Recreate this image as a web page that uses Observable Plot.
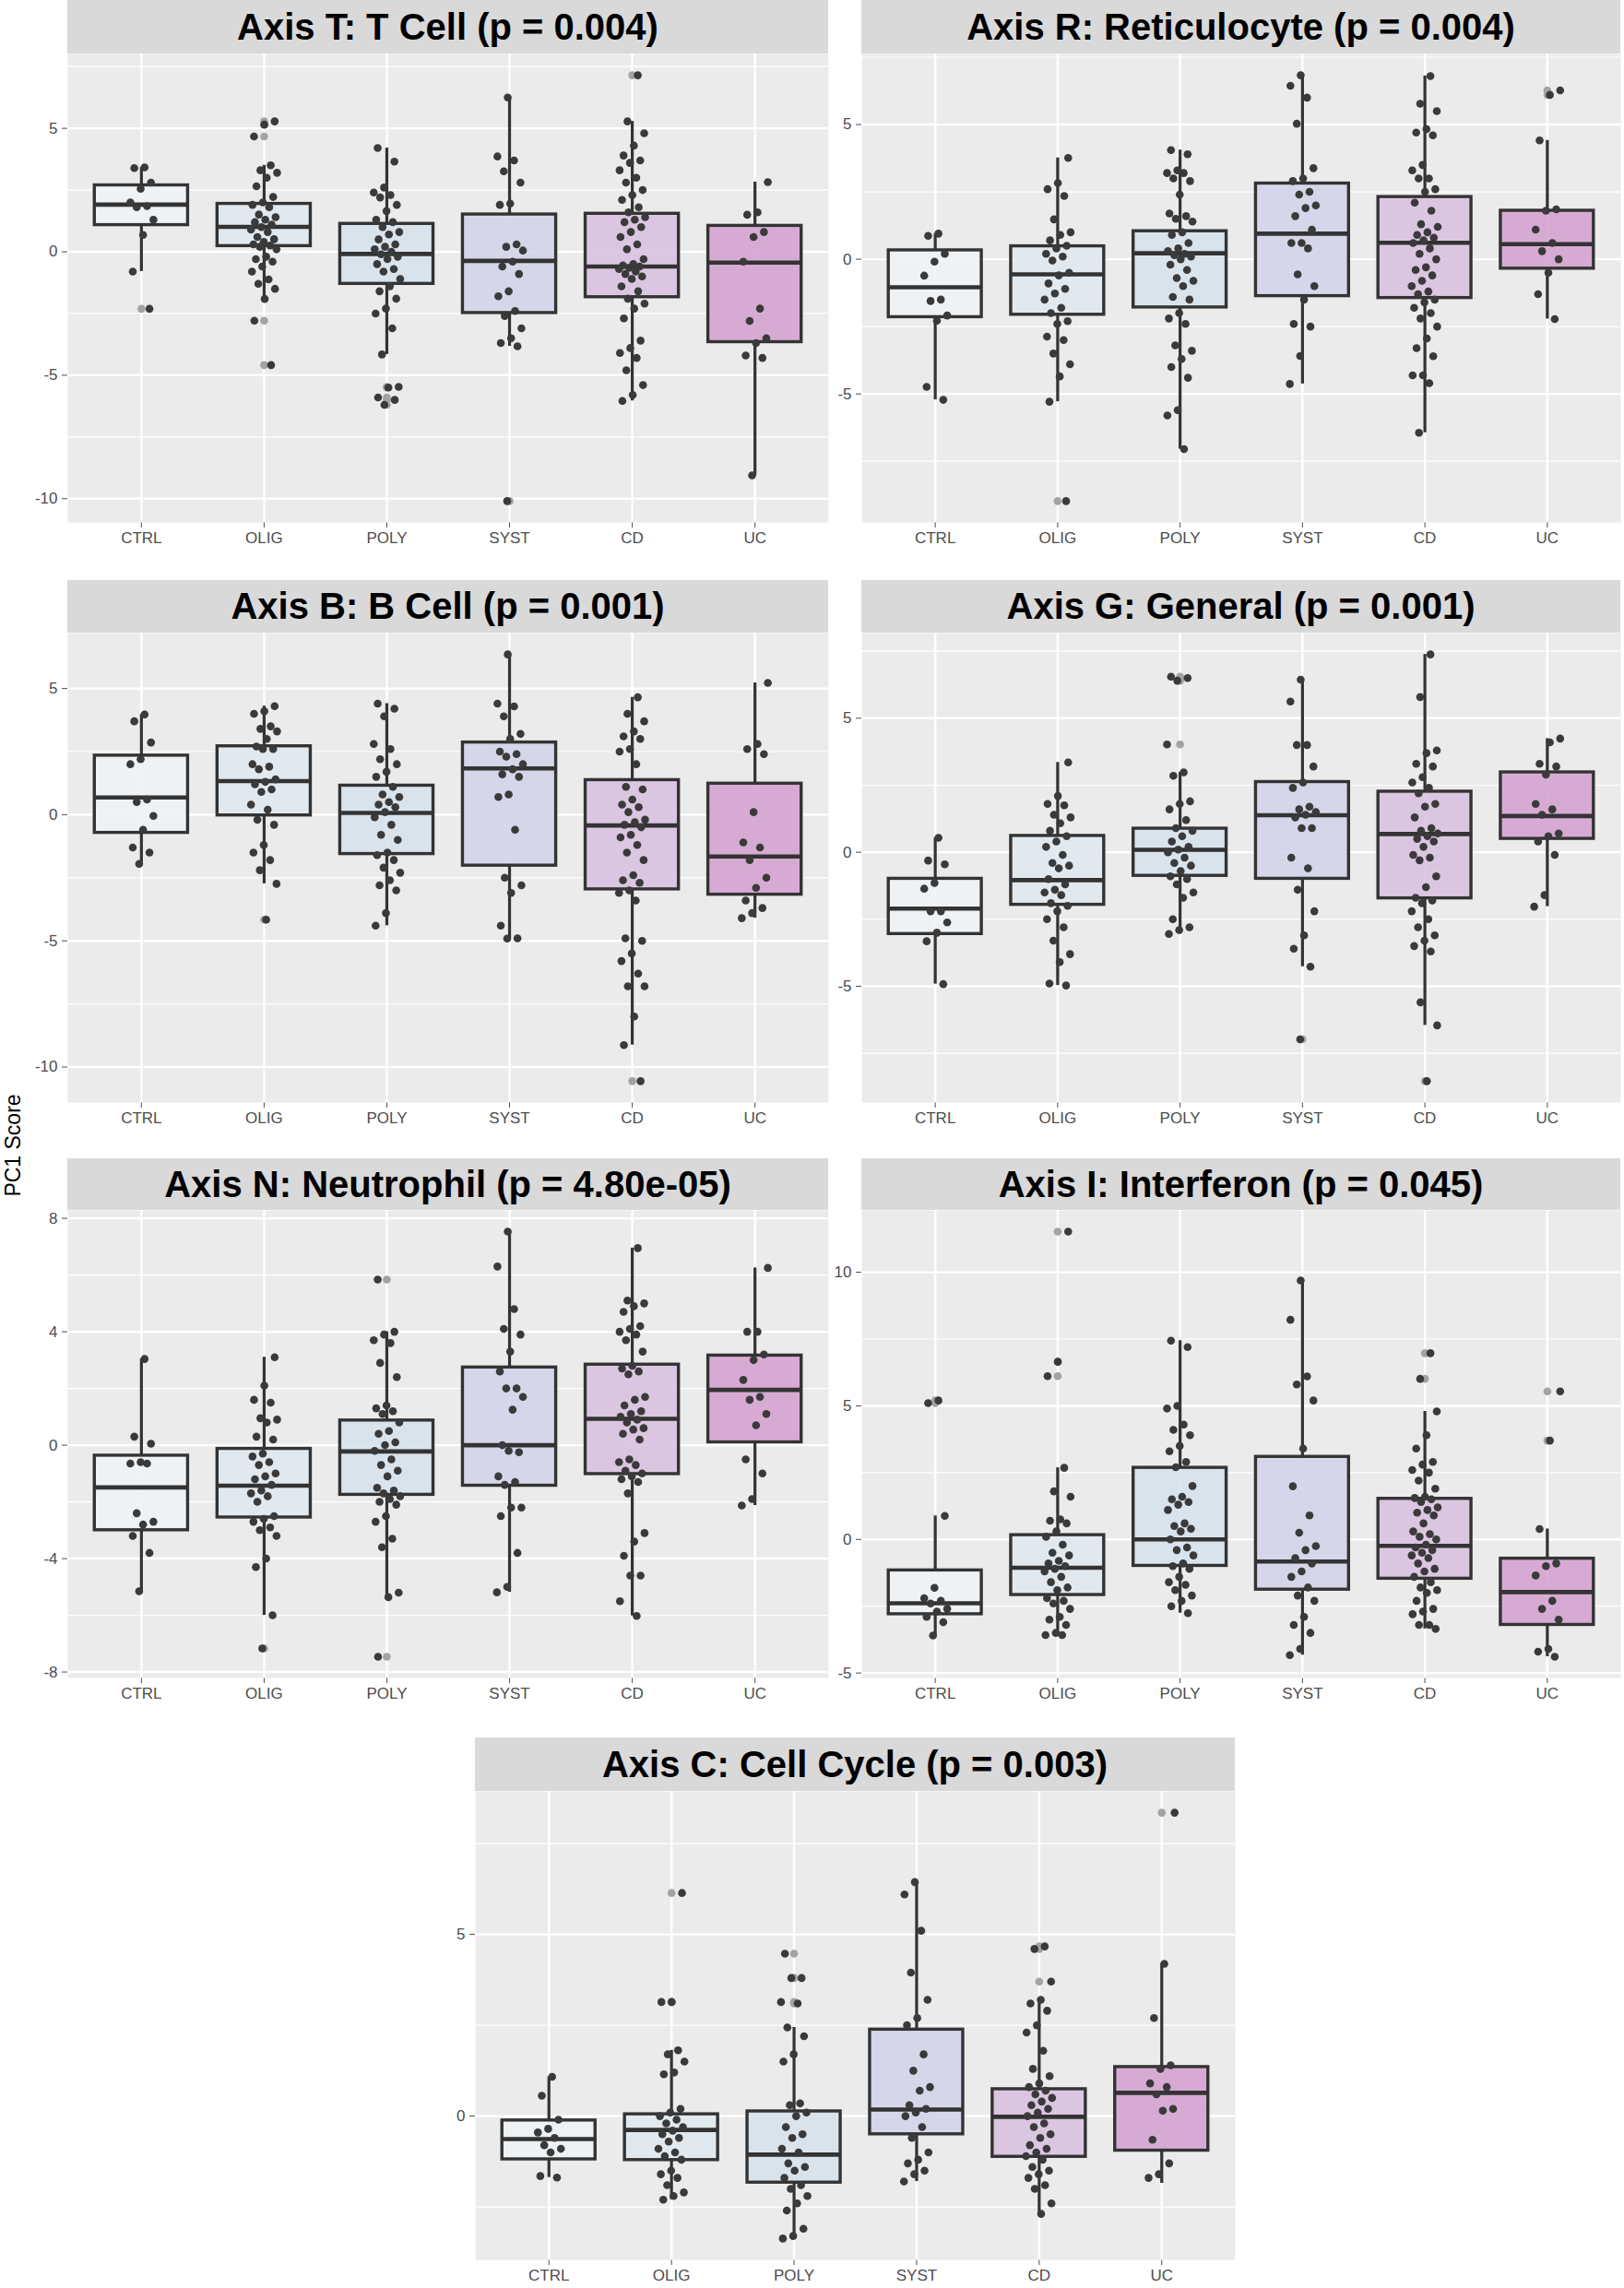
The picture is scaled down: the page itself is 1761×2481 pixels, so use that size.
<!DOCTYPE html>
<html>
<head>
<meta charset="utf-8">
<script src="https://cdn.jsdelivr.net/npm/d3@7"></script>
<script src="https://cdn.jsdelivr.net/npm/@observablehq/plot@0.6"></script>
<style>
  body { margin: 0; background: #ffffff; }
  #root { position: relative; width: 1761px; height: 2481px; background: #ffffff; font-family: "Liberation Sans", Arial, sans-serif; overflow: hidden; }
  .strip { position: absolute; background: #D9D9D9; display: flex; align-items: center; justify-content: center; font-weight: bold; font-size: 40px; color: #000; white-space: nowrap; }
  .panel { position: absolute; }
  .ylab { position: absolute; font-size: 23px; color: #000; white-space: nowrap; transform: translate(-50%, -50%) rotate(-90deg); }
</style>
</head>
<body>
<div id="root"></div>
<script>
// ---------------- DATA ----------------
const groups = ["CTRL", "OLIG", "POLY", "SYST", "CD", "UC"];
const groupFills = ["#EEF3F6", "#E0E8EE", "#D6E1EC", "#D1D3E8", "#D8C0E0", "#D4A0D0"];
const titles = [
  "Axis T: T Cell (p = 0.004)",
  "Axis R: Reticulocyte (p = 0.004)",
  "Axis B: B Cell (p = 0.001)",
  "Axis G: General (p = 0.001)",
  "Axis N: Neutrophil (p = 4.80e-05)",
  "Axis I: Interferon (p = 0.045)",
  "Axis C: Cell Cycle (p = 0.003)"
];
const tickSteps = [5, 5, 5, 5, 4, 5, 5];
const yLabel = "PC1 Score";

// box stats per group: [whisker low, Q1, median, Q3, whisker high]
const tBox = [[-0.80, 1.08, 1.91, 2.69, 3.42], [-1.91, 0.23, 1.01, 1.94, 3.50], [-4.16, -1.30, -0.09, 1.13, 4.20], [-3.83, -2.48, -0.37, 1.51, 6.25], [-6.04, -1.84, -0.60, 1.54, 5.28], [-9.06, -3.66, -0.44, 1.05, 2.82]];
const tPts = [
  [3.42, 3.39, 2.8, 2.55, 2.0, 1.85, 1.8, 1.3, 0.68, -0.8, -2.31],
  [5.28, 5.15, 4.67, 3.5, 3.3, 3.2, 3.0, 2.65, 2.22, 2.0, 1.9, 1.8, 1.51, 1.4, 1.3, 1.2, 1.1, 1.0, 0.9, 0.8, 0.6, 0.51, 0.4, 0.3, 0.25, 0.2, 0.1, -0.2, -0.3, -0.4, -0.6, -0.8, -1.12, -1.3, -1.5, -1.91, -2.79, -4.59],
  [4.2, 3.65, 2.6, 2.4, 2.3, 2.2, 1.9, 1.65, 1.3, 1.2, 1.0, 0.8, 0.7, 0.5, 0.3, 0.2, 0.1, 0.0, -0.1, -0.2, -0.3, -0.5, -0.7, -0.8, -1.1, -1.4, -1.6, -1.9, -2.3, -2.5, -3.1, -4.16, -5.47, -5.5, -5.9, -6.0, -6.2],
  [6.25, 3.86, 3.7, 3.26, 2.8, 1.95, 1.9, 0.3, 0.2, 0.05, -0.4, -0.6, -0.9, -1.6, -1.8, -2.4, -2.6, -3.1, -3.5, -3.7, -3.83, -10.1],
  [7.15, 5.28, 4.8, 4.3, 3.9, 3.7, 3.6, 3.3, 3.0, 2.8, 2.5, 2.3, 2.1, 1.8, 1.6, 1.4, 1.3, 1.2, 1.0, 0.8, 0.6, 0.3, 0.1, -0.3, -0.5, -0.55, -0.6, -0.65, -0.7, -0.8, -0.9, -1.0, -1.1, -1.4, -1.6, -1.9, -2.1, -2.3, -2.7, -3.6, -3.9, -4.1, -4.3, -4.8, -5.4, -5.8, -6.04],
  [2.82, 1.6, 1.5, 0.8, 0.6, -0.4, -2.3, -2.8, -3.5, -3.7, -4.2, -4.3, -9.06]
];

const rBox = [[-5.22, -2.15, -1.04, 0.33, 0.95], [-5.29, -2.06, -0.56, 0.48, 3.76], [-7.05, -1.79, 0.22, 1.04, 4.05], [-4.63, -1.37, 0.95, 2.81, 6.83], [-6.44, -1.44, 0.61, 2.31, 6.80], [-2.22, -0.35, 0.56, 1.80, 4.41]];
const rPts = [
  [0.95, 0.87, 0.2, -0.09, -0.61, -1.5, -1.55, -2.09, -2.28, -4.74, -5.22],
  [3.76, 2.83, 2.6, 2.35, 1.48, 1.0, 0.9, 0.7, 0.5, 0.4, 0.2, 0.1, -0.05, -0.5, -0.6, -0.9, -1.1, -1.27, -1.5, -1.8, -2.0, -2.3, -2.4, -2.87, -3.0, -3.5, -3.9, -4.35, -5.29, -8.98],
  [4.05, 3.9, 3.3, 3.2, 3.2, 3.0, 2.9, 2.4, 1.7, 1.6, 1.5, 1.4, 1.0, 0.9, 0.6, 0.4, 0.3, 0.2, 0.15, 0.1, 0.0, -0.2, -0.4, -0.7, -0.8, -1.0, -1.4, -1.5, -2.0, -2.2, -2.4, -3.2, -3.4, -3.7, -4.0, -4.4, -5.6, -5.8, -7.05],
  [6.83, 6.44, 6.0, 5.03, 3.38, 3.0, 2.9, 2.5, 2.4, 2.0, 1.9, 1.6, 1.1, 0.6, 0.6, 0.4, -0.56, -1.0, -1.5, -2.4, -2.5, -3.59, -4.63],
  [6.8, 5.77, 5.5, 4.83, 4.7, 4.6, 3.5, 3.3, 3.0, 3.0, 2.6, 2.5, 2.1, 1.8, 1.3, 1.2, 1.0, 0.9, 0.8, 0.7, 0.6, 0.4, 0.2, 0.0, -0.3, -0.4, -0.6, -0.8, -1.0, -1.2, -1.3, -1.5, -1.6, -1.8, -2.0, -2.2, -2.5, -2.94, -3.3, -3.6, -4.31, -4.31, -4.6, -6.44],
  [6.27, 6.1, 4.41, 1.85, 1.8, 1.1, 0.6, 0.3, 0.0, -0.5, -1.3, -2.22]
];

const bBox = [[-1.95, -0.72, 0.68, 2.34, 3.97], [-2.74, -0.03, 1.33, 2.71, 4.30], [-4.40, -1.56, 0.07, 1.15, 4.40], [-4.91, -2.02, 1.83, 2.86, 6.35], [-9.13, -2.96, -0.43, 1.37, 4.65], [-4.10, -3.17, -1.66, 1.23, 5.22]];
const bPts = [
  [3.97, 3.7, 2.86, 2.2, 2.0, 0.6, 0.5, -0.05, -0.6, -1.3, -1.5, -1.95],
  [4.3, 4.1, 4.0, 3.5, 3.4, 3.3, 3.0, 2.7, 2.6, 2.6, 2.0, 1.9, 1.8, 1.4, 1.3, 1.2, 1.0, 0.9, 0.4, 0.2, -0.2, -0.4, -1.2, -1.5, -1.8, -2.2, -2.74, -4.16],
  [4.4, 4.2, 3.9, 2.8, 2.6, 2.2, 2.0, 1.7, 1.5, 1.1, 0.8, 0.7, 0.5, 0.4, 0.3, 0.1, -0.1, -0.4, -0.8, -1.0, -1.5, -1.6, -1.8, -2.1, -2.3, -2.6, -2.8, -3.0, -3.9, -4.4],
  [6.35, 4.4, 4.29, 3.9, 3.2, 3.0, 2.5, 2.4, 2.3, 2.0, 1.8, 1.6, 1.5, 0.8, 0.7, -0.6, -2.5, -2.8, -3.1, -4.4, -4.9, -4.91],
  [4.65, 4.0, 3.7, 3.3, 3.1, 3.0, 2.6, 2.5, 2.0, 1.1, 1.0, 0.6, 0.4, 0.3, 0.1, -0.2, -0.3, -0.4, -0.5, -0.8, -0.9, -1.2, -1.5, -1.8, -2.4, -2.6, -2.7, -3.0, -3.1, -3.4, -4.9, -5.0, -5.5, -5.8, -6.3, -6.8, -6.8, -8.0, -9.13, -10.56],
  [5.22, 2.8, 2.6, 2.4, 0.1, -1.1, -1.3, -1.8, -2.5, -2.9, -3.4, -3.7, -3.9, -4.1]
];

const gBox = [[-4.92, -3.05, -2.10, -0.99, 0.54], [-4.97, -1.96, -1.04, 0.61, 3.35], [-3.05, -0.88, 0.09, 0.88, 2.98], [-4.27, -0.99, 1.38, 2.62, 6.44], [-6.46, -1.72, 0.68, 2.26, 7.38], [-2.03, 0.50, 1.35, 2.98, 4.24]];
const gPts = [
  [0.54, -0.31, -0.45, -1.15, -1.36, -2.2, -2.2, -2.62, -3.0, -3.32, -4.92],
  [3.35, 2.1, 1.8, 1.75, 1.4, 1.3, 1.08, 0.8, 0.6, 0.4, 0.2, -0.1, -0.4, -0.5, -0.6, -1.0, -1.2, -1.4, -1.5, -1.6, -1.9, -2.0, -2.2, -2.5, -2.8, -3.3, -3.8, -4.1, -4.9, -4.97],
  [6.55, 6.5, 6.4, 4.02, 2.98, 2.85, 1.9, 1.8, 1.6, 1.2, 0.9, 0.8, 0.6, 0.4, 0.2, 0.1, 0.0, -0.2, -0.4, -0.5, -0.7, -0.9, -1.0, -1.2, -1.5, -1.7, -2.5, -2.8, -2.9, -3.05],
  [6.44, 5.62, 4.0, 4.0, 3.2, 2.6, 2.4, 1.7, 1.6, 1.5, 1.4, 1.3, 0.9, 0.9, -0.2, -0.6, -1.4, -2.2, -3.1, -3.6, -4.27, -6.98],
  [7.38, 5.79, 3.8, 3.7, 3.3, 3.2, 2.8, 2.6, 2.4, 2.2, 1.8, 1.7, 1.3, 0.9, 0.8, 0.7, 0.6, 0.5, 0.4, 0.2, -0.1, -0.2, -0.3, -0.9, -1.3, -1.7, -1.8, -1.9, -2.2, -2.5, -2.8, -3.1, -3.3, -3.5, -3.7, -5.6, -6.46, -8.54],
  [4.24, 4.1, 3.3, 3.2, 2.9, 1.8, 1.6, 1.4, 0.7, 0.6, 0.4, -0.1, -1.6, -2.03]
];

const nBox = [[-5.15, -3.00, -1.49, -0.37, 3.04], [-6.00, -2.55, -1.43, -0.13, 3.10], [-5.36, -1.75, -0.22, 0.87, 4.00], [-5.19, -1.43, 0.00, 2.74, 7.53], [-6.02, -1.02, 0.93, 2.84, 6.95], [-2.13, 0.10, 1.95, 3.16, 6.25]];
const nPts = [
  [3.04, 0.3, 0.05, -0.6, -0.65, -0.65, -2.4, -2.7, -2.8, -3.2, -3.8, -5.15],
  [3.1, 2.1, 1.6, 1.5, 0.95, 0.9, 0.8, 0.3, 0.2, -0.3, -0.4, -0.6, -0.7, -1.0, -1.1, -1.2, -1.4, -1.6, -1.7, -1.8, -2.0, -2.5, -2.6, -2.7, -2.9, -3.0, -3.2, -4.0, -4.3, -6.0, -7.17],
  [5.84, 4.0, 3.9, 3.7, 3.6, 2.9, 2.4, 1.4, 1.3, 1.2, 1.1, 0.8, 0.5, 0.4, 0.1, 0.0, -0.2, -0.5, -0.7, -0.9, -1.1, -1.5, -1.6, -1.7, -1.8, -1.9, -2.0, -2.1, -2.5, -2.7, -3.3, -3.6, -5.2, -5.36, -7.46],
  [7.53, 6.3, 4.8, 4.1, 3.9, 3.3, 2.6, 2.0, 2.0, 1.7, 1.25, 0.0, -0.25, -0.2, -1.1, -1.3, -1.4, -2.2, -2.2, -2.5, -3.8, -5.0, -5.19],
  [6.95, 5.1, 5.0, 4.9, 4.7, 4.2, 4.1, 4.0, 3.9, 3.7, 3.3, 2.8, 2.7, 2.6, 2.5, 1.7, 1.6, 1.4, 1.2, 1.1, 1.0, 0.9, 0.8, 0.6, 0.55, 0.4, 0.2, -0.5, -0.6, -0.7, -0.9, -1.0, -1.1, -1.2, -1.3, -1.7, -3.1, -3.4, -3.9, -4.6, -4.6, -5.5, -6.02],
  [6.25, 4.0, 4.0, 3.2, 3.0, 2.3, 1.7, 1.6, 1.1, 0.7, -0.5, -1.0, -1.9, -2.13]
];

const iBox = [[-3.60, -2.80, -2.39, -1.16, 0.88], [-3.58, -2.08, -1.06, 0.16, 2.68], [-2.76, -0.99, 0.00, 2.68, 7.44], [-4.33, -1.88, -0.83, 3.09, 9.69], [-3.35, -1.47, -0.24, 1.52, 4.79], [-4.39, -3.20, -1.97, -0.72, 0.39]];
const iPts = [
  [5.2, 5.1, 0.88, -1.81, -2.2, -2.3, -2.4, -2.6, -2.7, -2.9, -3.1, -3.6],
  [11.52, 6.65, 6.11, 2.68, 1.8, 1.6, 0.75, 0.7, 0.6, 0.3, 0.1, -0.2, -0.5, -0.6, -0.8, -0.9, -1.0, -1.1, -1.2, -1.4, -1.6, -1.8, -1.9, -2.2, -2.3, -2.4, -2.6, -2.9, -3.0, -3.2, -3.5, -3.58, -3.58],
  [7.44, 7.2, 5.0, 4.9, 4.3, 4.1, 3.9, 3.5, 3.3, 2.9, 2.7, 2.0, 1.6, 1.5, 1.4, 1.3, 1.1, 0.6, 0.5, 0.4, 0.3, 0.0, -0.3, -0.4, -0.6, -0.9, -1.0, -1.1, -1.4, -1.6, -1.7, -1.9, -2.1, -2.3, -2.5, -2.76],
  [9.69, 8.22, 6.1, 5.8, 5.2, 3.4, 1.99, 0.9, 0.25, -0.25, -0.4, -0.7, -0.9, -1.2, -1.4, -1.8, -2.1, -2.3, -2.9, -3.2, -3.5, -4.1, -4.33],
  [6.97, 6.01, 4.79, 3.9, 3.4, 2.9, 2.8, 2.6, 2.5, 2.2, 1.9, 1.6, 1.55, 1.5, 1.4, 1.2, 1.1, 1.0, 0.9, 0.6, 0.3, 0.2, 0.1, 0.0, -0.2, -0.3, -0.4, -0.5, -0.6, -0.7, -0.9, -1.1, -1.2, -1.4, -1.6, -1.8, -1.9, -2.0, -2.3, -2.6, -2.7, -2.8, -3.2, -3.2, -3.35],
  [5.54, 3.7, 0.39, -0.9, -1.0, -1.35, -2.3, -2.6, -3.0, -4.1, -4.2, -4.39]
];

const cBox = [[-1.69, -1.19, -0.63, -0.12, 1.08], [-2.30, -1.21, -0.38, 0.05, 1.81], [-3.37, -1.83, -1.06, 0.13, 2.44], [-1.80, -0.50, 0.18, 2.38, 6.44], [-2.69, -1.12, -0.02, 0.74, 3.20], [-1.85, -0.95, 0.64, 1.35, 4.19]];
const cPts = [
  [1.08, 0.56, -0.1, -0.35, -0.45, -0.6, -0.8, -0.9, -1.0, -1.65, -1.69],
  [6.14, 3.14, 3.14, 1.81, 1.7, 1.5, 1.2, 1.15, 0.2, 0.1, 0.0, -0.1, -0.2, -0.3, -0.4, -0.5, -0.6, -0.7, -0.9, -1.0, -1.1, -1.2, -1.5, -1.6, -1.7, -1.9, -2.1, -2.2, -2.3],
  [4.47, 3.8, 3.8, 3.14, 3.1, 2.44, 2.2, 1.7, 1.5, 0.35, 0.3, 0.1, 0.0, -0.3, -0.5, -0.6, -0.9, -1.0, -1.3, -1.4, -1.5, -1.7, -1.9, -2.0, -2.2, -2.4, -2.6, -3.1, -3.3, -3.37],
  [6.44, 6.1, 5.1, 3.95, 3.2, 2.7, 2.5, 1.7, 1.25, 0.8, 0.7, 0.3, 0.2, 0.1, 0.0, -0.3, -0.6, -1.0, -1.2, -1.3, -1.5, -1.6, -1.8],
  [4.67, 4.6, 3.7, 3.2, 3.1, 2.9, 2.5, 2.3, 1.8, 1.3, 1.1, 0.9, 0.8, 0.7, 0.6, 0.5, 0.4, 0.3, 0.2, 0.1, 0.0, -0.2, -0.3, -0.5, -0.6, -0.8, -0.9, -1.0, -1.1, -1.2, -1.4, -1.5, -1.6, -1.7, -1.9, -2.0, -2.4, -2.69],
  [8.35, 4.19, 2.7, 1.4, 1.3, 0.9, 0.8, 0.6, 0.2, 0.15, -0.65, -1.3, -1.6, -1.7]
];

// ---------------- LAYOUT ----------------
const panelBoxes = [tBox, rBox, bBox, gBox, nBox, iBox, cBox];
const panelPts = [tPts, rPts, bPts, gPts, nPts, iPts, cPts];
// [panel left, panel top, panel width, panel height, strip top]
const geoms = [
  [73, 58, 825, 508, 0],
  [934, 58, 823, 508, 0],
  [73, 686, 825, 509, 629],
  [934, 686, 823, 509, 629],
  [73, 1312, 825, 507, 1256],
  [934, 1312, 823, 507, 1256],
  [515, 1942, 824, 508, 1884]
];

const root = document.getElementById("root");
const FONT = '"Liberation Sans", Arial, sans-serif';
const HALF = 0.38;

// deterministic horizontal jitter (position only)
function jitter(gi, j) {
  const u = ((j + 1) * 0.6180339887 + gi * 0.2718) % 1;
  return (u - 0.5) * 0.22;
}

function drawPanel(k) {
  const [px, py, pw, ph, sy] = geoms[k];
  const step = tickSteps[k];
  const boxes = panelBoxes[k].map((b, gi) => ({ g: gi + 1, lo: b[0], q1: b[1], med: b[2], q3: b[3], hi: b[4], fill: groupFills[gi] }));
  const pts = [];
  panelPts[k].forEach((vals, gi) => vals.forEach((v, j) => pts.push({ g: gi + 1, v, jx: jitter(gi, j) })));
  const outl = pts.filter(p => p.v > boxes[p.g - 1].hi + 1e-9 || p.v < boxes[p.g - 1].lo - 1e-9);

  const allVals = pts.map(p => p.v).concat(boxes.flatMap(b => [b.lo, b.hi]));
  const [mn, mx] = d3.extent(allVals);
  const pad = (mx - mn) * 0.05;
  const domain = [mn - pad, mx + pad];
  const majors = d3.range(Math.ceil(domain[0] / step) * step, domain[1] + 1e-9, step);
  const minors = d3.range(Math.ceil((domain[0] - step / 2) / step) * step + step / 2, domain[1], step).filter(v => v > domain[0] && v < domain[1]);

  const ML = k % 2 === 0 && k !== 6 ? px : 60;
  const MB = 46;

  const chart = Plot.plot({
    width: pw + ML,
    height: ph + MB,
    marginLeft: ML,
    marginRight: 0,
    marginTop: 0,
    marginBottom: MB,
    style: { fontFamily: FONT, fontSize: "17px", color: "#4D4D4D", background: "transparent", overflow: "visible" },
    color: { type: "identity" },
    x: { domain: [0.4, 6.6], ticks: [1, 2, 3, 4, 5, 6], tickFormat: i => groups[i - 1], tickSize: 6, tickPadding: 4, label: null },
    y: { domain, ticks: majors, tickSize: 6, tickPadding: 5, label: null, tickFormat: d => String(d) },
    marks: [
      Plot.frame({ fill: "#EBEBEB", stroke: null }),
      Plot.ruleY(minors, { stroke: "#FFFFFF", strokeWidth: 1.2 }),
      Plot.ruleY(majors, { stroke: "#FFFFFF", strokeWidth: 2.4 }),
      Plot.ruleX([1, 2, 3, 4, 5, 6], { stroke: "#FFFFFF", strokeWidth: 2.4 }),
      Plot.ruleX(boxes, { x: "g", y1: "q3", y2: "hi", stroke: "#333333", strokeWidth: 3.2 }),
      Plot.ruleX(boxes, { x: "g", y1: "lo", y2: "q1", stroke: "#333333", strokeWidth: 3.2 }),
      Plot.rect(boxes, { x1: d => d.g - HALF, x2: d => d.g + HALF, y1: "q1", y2: "q3", fill: "fill", fillOpacity: 0.88, stroke: "#333333", strokeWidth: 3.4 }),
      Plot.ruleY(boxes, { y: "med", x1: d => d.g - HALF, x2: d => d.g + HALF, stroke: "#333333", strokeWidth: 4.6 }),
      Plot.dot(outl, { x: "g", y: "v", r: 4.3, fill: "#A3A3A3", stroke: null }),
      Plot.dot(pts, { x: d => d.g + d.jx, y: "v", r: 4.3, fill: "#3A3A3A", stroke: null })
    ]
  });
  chart.classList.add("panel");
  chart.style.left = (px - ML) + "px";
  chart.style.top = py + "px";
  root.appendChild(chart);

  const strip = document.createElement("div");
  strip.className = "strip";
  strip.style.left = px + "px";
  strip.style.top = sy + "px";
  strip.style.width = pw + "px";
  strip.style.height = (py - sy) + "px";
  strip.textContent = titles[k];
  root.appendChild(strip);
}

for (let k = 0; k < 7; k++) drawPanel(k);

const yl = document.createElement("div");
yl.className = "ylab";
yl.style.left = "14px";
yl.style.top = "1242px";
yl.textContent = yLabel;
root.appendChild(yl);
</script>
</body>
</html>
